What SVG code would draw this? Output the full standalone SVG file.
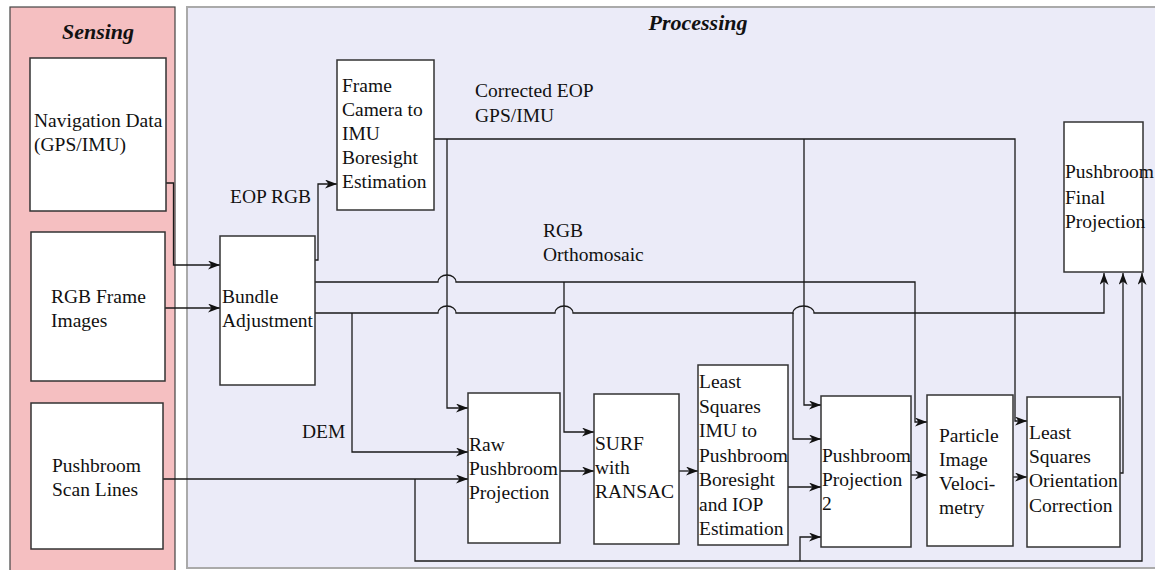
<svg xmlns="http://www.w3.org/2000/svg" width="1155" height="570" viewBox="0 0 1155 570">
<style>
.node{fill:#ffffff;stroke:#333333;stroke-width:1.5}
.t{font-family:"Liberation Serif","Times New Roman",serif;font-size:19.5px;fill:#111111}
.title{font-family:"Liberation Serif","Times New Roman",serif;font-size:22px;font-weight:bold;font-style:italic;fill:#111111}
.c{fill:none;stroke:#1a1a1a;stroke-width:1.3}
</style>
<defs>
<marker id="ah" markerUnits="userSpaceOnUse" markerWidth="13" markerHeight="10" refX="12" refY="4.5" orient="auto">
<path d="M0,0 L12,4.5 L0,9 L3.5,4.5 Z" fill="#111111"/>
</marker>
</defs>
<g id="sensing-panel">
<rect x="10" y="7" width="165" height="570" fill="#f5bfc1" stroke="#444444" stroke-width="1.2"/>
<text class="title" x="98" y="39" text-anchor="middle">Sensing</text>
</g>
<g id="processing-panel">
<rect x="187" y="7" width="980" height="561" fill="#ebebf8" stroke="#aaaaaa" stroke-width="2"/>
<text class="title" x="698" y="30" text-anchor="middle">Processing</text>
</g>
<g id="connectors">
<path class="c" d="M166,183 H173.5 V265 H220" marker-end="url(#ah)"/>
<path class="c" d="M165,308 H220" marker-end="url(#ah)"/>
<path class="c" d="M315,260 H318 V184 H337" marker-end="url(#ah)"/>
<path class="c" d="M434,139 H1015 V421 H1027" marker-end="url(#ah)"/>
<path class="c" d="M447,139 V408 H468" marker-end="url(#ah)"/>
<path class="c" d="M804,139 V405 H821" marker-end="url(#ah)"/>
<path class="c" d="M315,282 H438 a9,7 0 0 1 18,0 H915 V422 H927" marker-end="url(#ah)"/>
<path class="c" d="M564,282 V432 H594" marker-end="url(#ah)"/>
<path class="c" d="M315,313 H438 a9,7 0 0 1 18,0 H555 a9,7 0 0 1 18,0 H793 a10.5,7 0 0 1 21,0 H1104 V273" marker-end="url(#ah)"/>
<path class="c" d="M352,313 V452 H468" marker-end="url(#ah)"/>
<path class="c" d="M793,313 V439 H821" marker-end="url(#ah)"/>
<path class="c" d="M163,479 H468" marker-end="url(#ah)"/>
<path class="c" d="M415,479 V561 H1142 V273" marker-end="url(#ah)"/>
<path class="c" d="M800,561 V537 H821" marker-end="url(#ah)"/>
<path class="c" d="M560,471 H594" marker-end="url(#ah)"/>
<path class="c" d="M679,471 H698" marker-end="url(#ah)"/>
<path class="c" d="M788,487 H821" marker-end="url(#ah)"/>
<path class="c" d="M911,475 H927" marker-end="url(#ah)"/>
<path class="c" d="M1013,477 H1027" marker-end="url(#ah)"/>
<path class="c" d="M1120,473 H1123 V273" marker-end="url(#ah)"/>
<text class="t" x="230" y="203">EOP RGB</text>
<text class="t" x="475" y="97">Corrected EOP</text>
<text class="t" x="475" y="122">GPS/IMU</text>
<text class="t" x="543" y="237">RGB</text>
<text class="t" x="543" y="261">Orthomosaic</text>
<text class="t" x="302" y="438">DEM</text>
</g>
<g id="nav-data">
<rect class="node" x="30" y="58" width="136" height="153"/>
<text class="t" x="34" y="127">Navigation Data</text>
<text class="t" x="34" y="151">(GPS/IMU)</text>
</g>
<g id="rgb-frames">
<rect class="node" x="31" y="232" width="134" height="149"/>
<text class="t" x="51" y="303">RGB Frame</text>
<text class="t" x="51" y="327">Images</text>
</g>
<g id="pushbroom-scan">
<rect class="node" x="31" y="403" width="132" height="146"/>
<text class="t" x="52" y="472">Pushbroom</text>
<text class="t" x="52" y="496">Scan Lines</text>
</g>
<g id="bundle-adjustment">
<rect class="node" x="220" y="236" width="95" height="149"/>
<text class="t" x="222" y="303">Bundle</text>
<text class="t" x="222" y="327">Adjustment</text>
</g>
<g id="frame-camera-boresight">
<rect class="node" x="337" y="60" width="97" height="150"/>
<text class="t" x="342" y="92">Frame</text>
<text class="t" x="342" y="116">Camera to</text>
<text class="t" x="342" y="140">IMU</text>
<text class="t" x="342" y="164">Boresight</text>
<text class="t" x="342" y="188">Estimation</text>
</g>
<g id="raw-pushbroom">
<rect class="node" x="468" y="393" width="92" height="150"/>
<text class="t" x="469" y="451">Raw</text>
<text class="t" x="469" y="475">Pushbroom</text>
<text class="t" x="469" y="499">Projection</text>
</g>
<g id="surf-ransac">
<rect class="node" x="594" y="394" width="85" height="150"/>
<text class="t" x="595" y="450">SURF</text>
<text class="t" x="595" y="474">with</text>
<text class="t" x="595" y="498">RANSAC</text>
</g>
<g id="ls-imu-boresight">
<rect class="node" x="698" y="365" width="90" height="180"/>
<text class="t" x="699" y="388">Least</text>
<text class="t" x="699" y="413">Squares</text>
<text class="t" x="699" y="437">IMU to</text>
<text class="t" x="699" y="462">Pushbroom</text>
<text class="t" x="699" y="486">Boresight</text>
<text class="t" x="699" y="511">and IOP</text>
<text class="t" x="699" y="535">Estimation</text>
</g>
<g id="pushbroom-projection-2">
<rect class="node" x="821" y="396" width="90" height="151"/>
<text class="t" x="822" y="462">Pushbroom</text>
<text class="t" x="822" y="486">Projection</text>
<text class="t" x="822" y="510">2</text>
</g>
<g id="piv">
<rect class="node" x="927" y="395" width="86" height="151"/>
<text class="t" x="939" y="442">Particle</text>
<text class="t" x="939" y="466">Image</text>
<text class="t" x="939" y="490">Veloci-</text>
<text class="t" x="939" y="514">metry</text>
</g>
<g id="ls-orientation">
<rect class="node" x="1027" y="397" width="93" height="150"/>
<text class="t" x="1029" y="439">Least</text>
<text class="t" x="1029" y="463">Squares</text>
<text class="t" x="1029" y="487">Orientation</text>
<text class="t" x="1029" y="512">Correction</text>
</g>
<g id="pushbroom-final">
<rect class="node" x="1064" y="122" width="79" height="150"/>
<text class="t" x="1065" y="178">Pushbroom</text>
<text class="t" x="1065" y="204">Final</text>
<text class="t" x="1065" y="228">Projection</text>
</g>
</svg>
